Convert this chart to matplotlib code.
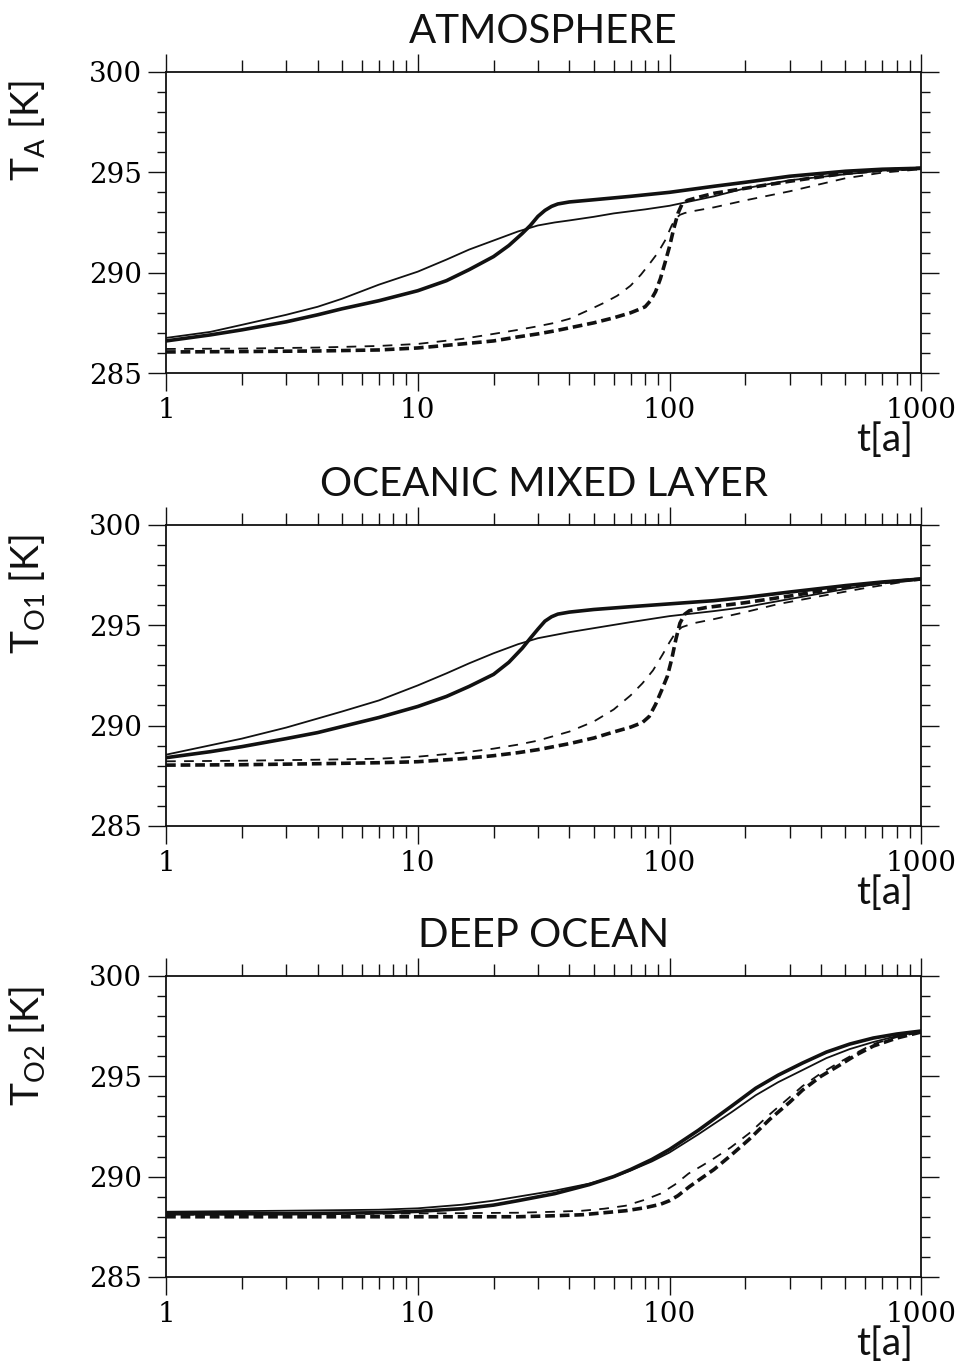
import matplotlib.pyplot as plt
from matplotlib.ticker import MultipleLocator, NullFormatter, LogLocator

plt.rcParams['lines.scale_dashes'] = False

#==============
# data
#==============
# ATMOSPHERE
atm_thick_t = [1, 1.5, 2, 3, 4, 5, 7, 10, 13, 16, 20, 23, 26, 28, 30, 32, 34, 36, 40, 50, 70,
               100, 150, 200, 300, 500, 700, 1000]
atm_thick_T = [286.6, 286.9, 287.15, 287.55, 287.9, 288.2, 288.6, 289.1, 289.6, 290.15, 290.8,
               291.35, 291.95, 292.35, 292.8, 293.1, 293.3, 293.42, 293.52, 293.63, 293.8,
               294.0, 294.3, 294.5, 294.8, 295.05, 295.15, 295.2]
atm_thin_t = [1, 1.5, 2, 3, 4, 5, 7, 10, 13, 16, 20, 25, 30, 35, 40, 50, 60, 80, 100, 150,
              200, 300, 500, 700, 1000]
atm_thin_T = [286.75, 287.05, 287.4, 287.9, 288.3, 288.7, 289.4, 290.05, 290.65, 291.15, 291.6,
              292.05, 292.35, 292.5, 292.6, 292.78, 292.95, 293.15, 293.33, 293.8, 294.2,
              294.6, 294.9, 295.08, 295.2]
atm_dthick_t = [1, 2, 4, 7, 10, 15, 20, 25, 30, 35, 40, 50, 60, 70, 75, 80, 84, 88, 92, 96,
                100, 104, 108, 112, 118, 130, 150, 200, 300, 500, 700, 1000]
atm_dthick_T = [286.05, 286.07, 286.1, 286.15, 286.25, 286.45, 286.6, 286.8, 286.95, 287.1,
                287.25, 287.5, 287.75, 288.0, 288.15, 288.3, 288.6, 289.05, 289.7, 290.5,
                291.3, 292.2, 292.95, 293.4, 293.6, 293.75, 293.95, 294.2, 294.55, 294.95,
                295.1, 295.2]
atm_dthin_t = [1, 2, 4, 7, 10, 15, 20, 25, 30, 35, 40, 48, 55, 62, 70, 77, 84, 90, 96, 102,
               106, 110, 115, 125, 150, 200, 300, 500, 700, 1000]
atm_dthin_T = [286.2, 286.22, 286.27, 286.35, 286.45, 286.7, 286.95, 287.15, 287.33, 287.5,
               287.7, 288.15, 288.5, 288.85, 289.35, 289.9, 290.5, 291.0, 291.6, 292.35,
               292.7, 292.88, 292.97, 293.07, 293.25, 293.6, 294.05, 294.7, 294.98, 295.15]

# OCEANIC MIXED LAYER
mix_thick_t = [1, 1.5, 2, 3, 4, 5, 7, 10, 13, 16, 20, 23, 26, 28, 30, 32, 34, 36, 40, 50, 70,
               100, 150, 200, 300, 500, 700, 1000]
mix_thick_T = [288.4, 288.7, 288.95, 289.35, 289.65, 289.95, 290.4, 290.95, 291.45, 291.95,
               292.55, 293.15, 293.85, 294.35, 294.8, 295.2, 295.42, 295.55, 295.65, 295.78,
               295.92, 296.06, 296.22, 296.38, 296.65, 296.97, 297.15, 297.3]
mix_thin_t = [1, 2, 3, 4, 5, 7, 10, 13, 16, 20, 25, 30, 40, 50, 70, 100, 150, 200, 300, 500,
              700, 1000]
mix_thin_T = [288.55, 289.35, 289.9, 290.35, 290.7, 291.25, 292.0, 292.6, 293.1, 293.6, 294.05,
              294.35, 294.65, 294.85, 295.15, 295.45, 295.7, 295.9, 296.3, 296.8, 297.1, 297.3]
mix_dthick_t = [1, 2, 4, 7, 10, 15, 20, 25, 30, 40, 50, 60, 70, 78, 83, 88, 93, 98, 102, 106,
                110, 115, 120, 140, 200, 300, 500, 700, 1000]
mix_dthick_T = [288.03, 288.05, 288.1, 288.15, 288.2, 288.35, 288.5, 288.65, 288.8, 289.1,
                289.38, 289.68, 289.92, 290.15, 290.45, 291.05, 291.75, 292.45, 293.3, 294.3,
                295.1, 295.55, 295.72, 295.88, 296.12, 296.45, 296.9, 297.12, 297.3]
mix_dthin_t = [1, 2, 4, 7, 10, 15, 20, 25, 30, 40, 50, 60, 70, 78, 86, 94, 100, 106, 112, 125,
               150, 200, 270, 400, 600, 1000]
mix_dthin_T = [288.22, 288.25, 288.3, 288.35, 288.45, 288.65, 288.85, 289.05, 289.25, 289.7,
               290.2, 290.8, 291.5, 292.1, 292.75, 293.55, 294.15, 294.65, 294.9, 295.1,
               295.3, 295.65, 296.05, 296.45, 296.85, 297.3]

# DEEP OCEAN
deep_thick_t = [1, 3, 7, 10, 15, 20, 25, 35, 48, 60, 70, 85, 100, 130, 176, 220, 270, 337,
                420, 520, 645, 800, 1000]
deep_thick_T = [288.15, 288.15, 288.2, 288.27, 288.4, 288.58, 288.8, 289.15, 289.6, 290.0,
                290.35, 290.85, 291.35, 292.3, 293.5, 294.4, 295.05, 295.65, 296.2, 296.6,
                296.9, 297.1, 297.25]
deep_thin_t = [1, 3, 7, 10, 15, 20, 25, 35, 48, 60, 70, 85, 100, 130, 176, 220, 270, 337,
               420, 520, 645, 800, 1000]
deep_thin_T = [288.25, 288.3, 288.35, 288.42, 288.6, 288.8, 289.0, 289.3, 289.65, 289.98,
               290.3, 290.75, 291.2, 292.1, 293.2, 294.05, 294.7, 295.3, 295.9, 296.35,
               296.7, 297.0, 297.25]
deep_dthick_t = [1, 7, 15, 25, 35, 45, 55, 67, 80, 92, 100, 108, 120, 135, 150, 175, 207,
                 250, 300, 337, 400, 467, 550, 645, 800, 1000]
deep_dthick_T = [288.0, 288.0, 288.0, 288.0, 288.05, 288.1, 288.2, 288.3, 288.45, 288.62,
                 288.8, 289.05, 289.5, 289.95, 290.35, 291.05, 291.85, 292.85, 293.7, 294.3,
                 295.0, 295.5, 296.05, 296.5, 296.9, 297.2]
deep_dthin_t = [1, 7, 15, 25, 35, 45, 55, 67, 80, 92, 105, 119, 135, 150, 175, 207, 250, 300,
                337, 400, 467, 550, 645, 800, 1000]
deep_dthin_T = [288.1, 288.15, 288.18, 288.2, 288.25, 288.3, 288.4, 288.55, 288.85, 289.15,
                289.6, 290.15, 290.55, 290.9, 291.45, 292.15, 293.1, 293.95, 294.5, 295.15,
                295.65, 296.15, 296.6, 296.95, 297.2]

titles = ['ATMOSPHERE', 'OCEANIC MIXED LAYER', 'DEEP OCEAN']
ylabels = [r'T$_\mathregular{A}$ [K]', r'T$_\mathregular{O1}$ [K]', r'T$_\mathregular{O2}$ [K]']
xticks = [1, 10, 100, 1000]
xticklabels = ['1', '10', '100', '1000']

panels = [
    [(atm_thick_t, atm_thick_T), (atm_thin_t, atm_thin_T),
     (atm_dthick_t, atm_dthick_T), (atm_dthin_t, atm_dthin_T)],
    [(mix_thick_t, mix_thick_T), (mix_thin_t, mix_thin_T),
     (mix_dthick_t, mix_dthick_T), (mix_dthin_t, mix_dthin_T)],
    [(deep_thick_t, deep_thick_T), (deep_thin_t, deep_thin_T),
     (deep_dthick_t, deep_dthick_T), (deep_dthin_t, deep_dthin_T)],
]

# line styles: thick solid, thin solid, thick dashed, thin dashed
styles = [
    dict(lw=2.6, ls='-'),
    dict(lw=1.3, ls='-'),
    dict(lw=2.6, ls=(0, (7, 3.5))),
    dict(lw=1.3, ls=(0, (7, 6))),
]

#============
# figure
#============
fig = plt.figure(figsize=(9.67, 13.63), dpi=100)
bottoms = [0.7263, 0.394, 0.0631]
ylab_y = [0.973, 0.97, 0.965]
label_font = dict(fontsize=28, family='Lato', color='#111111')

for i in range(3):
    ax = fig.add_axes([0.1717, bottoms[i], 0.781, 0.221])
    for (t, T), st in zip(panels[i], styles):
        ax.plot(t, T, color='#111111', solid_capstyle='round', dash_capstyle='butt',
                solid_joinstyle='round', **st)

    ax.set_xscale('log')
    ax.set_xlim(1, 1000)
    ax.set_ylim(285, 300)
    ax.set_xticks(xticks, labels=xticklabels)
    ax.xaxis.set_minor_locator(LogLocator(base=10, subs=range(2, 10)))
    ax.xaxis.set_minor_formatter(NullFormatter())
    ax.yaxis.set_major_locator(MultipleLocator(5))
    ax.yaxis.set_minor_locator(MultipleLocator(1))

    ax.tick_params(which='both', direction='out', top=True, right=True, width=1.0, color='#111111')
    ax.tick_params(which='major', length=13, pad=4, labelsize=20)
    ax.tick_params(axis='x', which='minor', length=8.5)
    ax.tick_params(axis='y', which='minor', length=6.5)
    for lab in ax.get_xticklabels() + ax.get_yticklabels():
        lab.set_family('DejaVu Serif')
    for sp in ax.spines.values():
        sp.set_linewidth(1.3)
        sp.set_color('#111111')

    ax.set_title(titles[i], pad=21, fontsize=29, family='Lato', color='#111111')
    ax.set_ylabel(ylabels[i], ha='right', va='center', **label_font)
    ax.yaxis.set_label_coords(-0.183, ylab_y[i])
    ax.set_xlabel('t[a]', ha='right', va='top', **label_font)
    ax.xaxis.set_label_coords(0.989, -0.163)

plt.savefig('out.png', dpi=100)
